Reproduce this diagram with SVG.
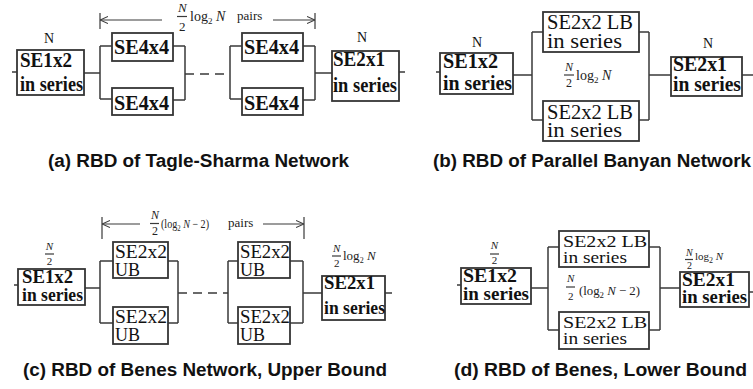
<svg xmlns="http://www.w3.org/2000/svg" width="753" height="389" viewBox="0 0 753 389">
  <style>
    .box { fill: #ffffff; stroke: #353535; stroke-width: 1.8; }
    .wire { fill: none; stroke: #3a3a3a; stroke-width: 1.5; }
    .dash { fill: none; stroke: #3a3a3a; stroke-width: 1.5; stroke-dasharray: 9 6; }
    .arrow { fill: none; stroke: #3a3a3a; stroke-width: 1.2; }
    .tick { fill: none; stroke: #3a3a3a; stroke-width: 1.2; }
    .b { font-family: "Liberation Serif", "Times New Roman", serif; font-weight: bold; fill: #111; }
    .r { font-family: "Liberation Serif", "Times New Roman", serif; fill: #111; }
    .m { font-family: "Liberation Serif", "Times New Roman", serif; fill: #222; }
    .mi { font-style: italic; }
    .cap { font-family: "Liberation Sans", Arial, sans-serif; font-weight: bold; font-size: 18px; fill: #111; }
  </style>
  <defs>
    <marker id="head" viewBox="0 0 8 8" refX="8" refY="4" markerWidth="8" markerHeight="8" markerUnits="userSpaceOnUse" orient="auto-start-reverse">
      <path d="M0,0.5 L8,4 L0,7.5" fill="none" stroke="#3a3a3a" stroke-width="1.1"/>
    </marker>
  </defs>

  <!-- ===== (a) Tagle-Sharma ===== -->
  <g id="a-connectors">
    <path class="wire" d="M12,72 H17 M84,73 H100 M100,46 V99 M100,46 H112 M100,99 H112 M173,46 H185 M173,100 H185 M185,46 V100"/>
    <path class="dash" d="M185,74 H230"/>
    <path class="wire" d="M230,46 V99 M230,46 H242 M230,99 H242 M303,46 H315 M303,100 H315 M315,46 V100 M315,73 H332 M399,72 H405"/>
    <path class="tick" d="M100,13 V29 M315,13 V29"/>
    <path class="arrow" d="M162,20 H100" marker-end="url(#head)"/>
    <path class="arrow" d="M273,20 H315" marker-end="url(#head)"/>
  </g>
  <g id="a-span-label">
    <text class="m mi" x="178" y="12" font-size="13">N</text>
    <path class="tick" d="M177,16.5 H187"/>
    <text class="m" x="179" y="31" font-size="13">2</text>
    <text class="m" x="190" y="21" font-size="14">log<tspan font-size="9" dy="3">2</tspan><tspan class="mi" dy="-3"> N</tspan></text>
    <text class="m" x="237" y="20" font-size="13">pairs</text>
  </g>
  <g id="a-se1x2">
    <text class="r" x="49" y="43" font-size="14" text-anchor="middle">N</text>
    <rect class="box" x="17" y="50" width="67" height="45"/>
    <text class="b" x="20" y="67" font-size="21" textLength="52" lengthAdjust="spacingAndGlyphs">SE1x2</text>
    <text class="b" x="20" y="91" font-size="21" textLength="63" lengthAdjust="spacingAndGlyphs">in series</text>
  </g>
  <g id="a-se4x4-1">
    <rect class="box" x="112" y="33" width="61" height="28"/>
    <text class="b" x="114" y="54" font-size="21" textLength="55" lengthAdjust="spacingAndGlyphs">SE4x4</text>
  </g>
  <g id="a-se4x4-2">
    <rect class="box" x="112" y="88" width="61" height="27"/>
    <text class="b" x="114" y="110" font-size="21" textLength="55" lengthAdjust="spacingAndGlyphs">SE4x4</text>
  </g>
  <g id="a-se4x4-3">
    <rect class="box" x="242" y="33" width="61" height="28"/>
    <text class="b" x="244" y="54" font-size="21" textLength="55" lengthAdjust="spacingAndGlyphs">SE4x4</text>
  </g>
  <g id="a-se4x4-4">
    <rect class="box" x="242" y="88" width="61" height="27"/>
    <text class="b" x="244" y="110" font-size="21" textLength="55" lengthAdjust="spacingAndGlyphs">SE4x4</text>
  </g>
  <g id="a-se2x1">
    <text class="r" x="362" y="42" font-size="14" text-anchor="middle">N</text>
    <rect class="box" x="332" y="51" width="67" height="50"/>
    <text class="b" x="333" y="66" font-size="21" textLength="52" lengthAdjust="spacingAndGlyphs">SE2x1</text>
    <text class="b" x="333" y="92" font-size="21" textLength="64" lengthAdjust="spacingAndGlyphs">in series</text>
  </g>
  <text class="cap" x="48" y="167" textLength="301" lengthAdjust="spacingAndGlyphs">(a) RBD of Tagle-Sharma Network</text>

  <!-- ===== (b) Parallel Banyan ===== -->
  <g id="b-connectors">
    <path class="wire" d="M436,72 H440 M513,75 H532 M532,32 V120 M532,32 H543 M532,120 H543 M639,32 H649 M639,120 H649 M649,32 V120 M649,75 H671 M742,75 H753"/>
  </g>
  <g id="b-mid-label">
    <text class="m mi" x="565" y="71" font-size="12">N</text>
    <path class="tick" d="M564,75 H574"/>
    <text class="m" x="566" y="87" font-size="12">2</text>
    <text class="m" x="576" y="80" font-size="14">log<tspan font-size="9" dy="3">2</tspan><tspan class="mi" dy="-3"> N</tspan></text>
  </g>
  <g id="b-se1x2">
    <text class="r" x="477" y="47" font-size="14" text-anchor="middle">N</text>
    <rect class="box" x="440" y="53" width="73" height="41"/>
    <text class="b" x="443" y="68" font-size="21" textLength="55" lengthAdjust="spacingAndGlyphs">SE1x2</text>
    <text class="b" x="443" y="90" font-size="21" textLength="69" lengthAdjust="spacingAndGlyphs">in series</text>
  </g>
  <g id="b-lb-1">
    <rect class="box" x="543" y="12" width="96" height="40"/>
    <text class="r" x="547" y="29" font-size="20" textLength="86" lengthAdjust="spacingAndGlyphs">SE2x2 LB</text>
    <text class="r" x="547" y="48" font-size="20" textLength="75" lengthAdjust="spacingAndGlyphs">in series</text>
  </g>
  <g id="b-lb-2">
    <rect class="box" x="543" y="101" width="96" height="40"/>
    <text class="r" x="547" y="119" font-size="20" textLength="86" lengthAdjust="spacingAndGlyphs">SE2x2 LB</text>
    <text class="r" x="547" y="137" font-size="20" textLength="75" lengthAdjust="spacingAndGlyphs">in series</text>
  </g>
  <g id="b-se2x1">
    <text class="r" x="708" y="48" font-size="14" text-anchor="middle">N</text>
    <rect class="box" x="671" y="57" width="71" height="39"/>
    <text class="b" x="673" y="71" font-size="20" textLength="54" lengthAdjust="spacingAndGlyphs">SE2x1</text>
    <text class="b" x="673" y="91" font-size="20" textLength="68" lengthAdjust="spacingAndGlyphs">in series</text>
  </g>
  <text class="cap" x="433" y="167" textLength="318" lengthAdjust="spacingAndGlyphs">(b) RBD of Parallel Banyan Network</text>

  <!-- ===== (c) Benes, upper bound ===== -->
  <g id="c-connectors">
    <path class="wire" d="M14,285 H18 M85,288 H100 M100,261 V323 M100,261 H113 M100,323 H113 M168,261 H178 M168,323 H178 M178,261 V323"/>
    <path class="dash" d="M178,293 H228"/>
    <path class="wire" d="M228,261 V323 M228,261 H238 M228,323 H238 M290,261 H303 M290,323 H303 M303,261 V323 M303,293 H322 M385,293 H392"/>
    <path class="tick" d="M102,217 V239 M304,217 V239"/>
    <path class="arrow" d="M140,224 H102" marker-end="url(#head)"/>
    <path class="arrow" d="M263,224 H304" marker-end="url(#head)"/>
  </g>
  <g id="c-span-label">
    <text class="m mi" x="151" y="219" font-size="12">N</text>
    <path class="tick" d="M150,223.5 H159"/>
    <text class="m" x="152" y="235" font-size="12">2</text>
    <text class="m" x="161" y="228" font-size="12" textLength="48" lengthAdjust="spacingAndGlyphs">(log<tspan font-size="8" dy="3">2</tspan><tspan class="mi" dy="-3"> N</tspan> − 2)</text>
    <text class="m" x="228" y="227" font-size="13">pairs</text>
  </g>
  <g id="c-se1x2">
    <text class="m mi" x="49.5" y="250" font-size="11" text-anchor="middle">N</text>
    <path class="tick" d="M45,254 H54"/>
    <text class="m" x="49.5" y="265" font-size="11" text-anchor="middle">2</text>
    <rect class="box" x="18" y="269" width="67" height="36"/>
    <text class="b" x="22" y="283" font-size="19" textLength="51" lengthAdjust="spacingAndGlyphs">SE1x2</text>
    <text class="b" x="22" y="301" font-size="19" textLength="61" lengthAdjust="spacingAndGlyphs">in series</text>
  </g>
  <g id="c-ub-1">
    <rect class="box" x="113" y="242" width="55" height="36"/>
    <text class="r" x="115" y="258" font-size="19" textLength="52" lengthAdjust="spacingAndGlyphs">SE2x2</text>
    <text class="r" x="115" y="276" font-size="19" textLength="25" lengthAdjust="spacingAndGlyphs">UB</text>
  </g>
  <g id="c-ub-2">
    <rect class="box" x="113" y="307" width="55" height="37"/>
    <text class="r" x="115" y="323" font-size="19" textLength="52" lengthAdjust="spacingAndGlyphs">SE2x2</text>
    <text class="r" x="115" y="341" font-size="19" textLength="25" lengthAdjust="spacingAndGlyphs">UB</text>
  </g>
  <g id="c-ub-3">
    <rect class="box" x="238" y="242" width="52" height="36"/>
    <text class="r" x="240" y="258" font-size="19" textLength="50" lengthAdjust="spacingAndGlyphs">SE2x2</text>
    <text class="r" x="240" y="276" font-size="19" textLength="25" lengthAdjust="spacingAndGlyphs">UB</text>
  </g>
  <g id="c-ub-4">
    <rect class="box" x="238" y="307" width="52" height="37"/>
    <text class="r" x="240" y="323" font-size="19" textLength="50" lengthAdjust="spacingAndGlyphs">SE2x2</text>
    <text class="r" x="240" y="341" font-size="19" textLength="25" lengthAdjust="spacingAndGlyphs">UB</text>
  </g>
  <g id="c-se2x1">
    <text class="m mi" x="333" y="252" font-size="11">N</text>
    <path class="tick" d="M332,256 H341"/>
    <text class="m" x="334" y="267" font-size="11">2</text>
    <text class="m" x="343" y="260" font-size="13">log<tspan font-size="8" dy="3">2</tspan><tspan class="mi" dy="-3"> N</tspan></text>
    <rect class="box" x="322" y="276" width="63" height="44"/>
    <text class="b" x="324" y="289" font-size="19" textLength="51" lengthAdjust="spacingAndGlyphs">SE2x1</text>
    <text class="b" x="324" y="314" font-size="19" textLength="61" lengthAdjust="spacingAndGlyphs">in series</text>
  </g>
  <text class="cap" x="23" y="376" textLength="364" lengthAdjust="spacingAndGlyphs">(c) RBD of Benes Network, Upper Bound</text>

  <!-- ===== (d) Benes, lower bound ===== -->
  <g id="d-connectors">
    <path class="wire" d="M457,285 H461 M531,288 H548 M548,247 V330 M548,247 H559 M548,330 H559 M649,247 H660 M649,330 H660 M660,247 V330 M660,288 H680 M749,292 H753"/>
  </g>
  <g id="d-mid-label">
    <text class="m mi" x="567" y="282" font-size="11">N</text>
    <path class="tick" d="M566,287 H575"/>
    <text class="m" x="568" y="300" font-size="11">2</text>
    <text class="m" x="579" y="295" font-size="13" textLength="61" lengthAdjust="spacingAndGlyphs">(log<tspan font-size="9" dy="3">2</tspan><tspan class="mi" dy="-3"> N</tspan> − 2)</text>
  </g>
  <g id="d-se1x2">
    <text class="m mi" x="494.5" y="249" font-size="11" text-anchor="middle">N</text>
    <path class="tick" d="M490,254 H499"/>
    <text class="m" x="494.5" y="264" font-size="11" text-anchor="middle">2</text>
    <rect class="box" x="461" y="268" width="70" height="36"/>
    <text class="b" x="463" y="282" font-size="19" textLength="54" lengthAdjust="spacingAndGlyphs">SE1x2</text>
    <text class="b" x="463" y="300" font-size="19" textLength="66" lengthAdjust="spacingAndGlyphs">in series</text>
  </g>
  <g id="d-lb-1">
    <rect class="box" x="559" y="231" width="90" height="36"/>
    <text class="r" x="563" y="247" font-size="17" textLength="84" lengthAdjust="spacingAndGlyphs">SE2x2 LB</text>
    <text class="r" x="563" y="263" font-size="17" textLength="64" lengthAdjust="spacingAndGlyphs">in series</text>
  </g>
  <g id="d-lb-2">
    <rect class="box" x="559" y="312" width="90" height="37"/>
    <text class="r" x="563" y="328" font-size="17" textLength="84" lengthAdjust="spacingAndGlyphs">SE2x2 LB</text>
    <text class="r" x="563" y="344" font-size="17" textLength="64" lengthAdjust="spacingAndGlyphs">in series</text>
  </g>
  <g id="d-se2x1">
    <text class="m mi" x="686" y="256" font-size="10">N</text>
    <path class="tick" d="M685,259.5 H693"/>
    <text class="m" x="687" y="269" font-size="10">2</text>
    <text class="m" x="695" y="260" font-size="11">log<tspan font-size="8" dy="3">2</tspan><tspan class="mi" dy="-3"> N</tspan></text>
    <rect class="box" x="680" y="272" width="69" height="35"/>
    <text class="b" x="682" y="286" font-size="19" textLength="53" lengthAdjust="spacingAndGlyphs">SE2x1</text>
    <text class="b" x="682" y="303" font-size="19" textLength="65" lengthAdjust="spacingAndGlyphs">in series</text>
  </g>
  <text class="cap" x="454" y="376" textLength="293" lengthAdjust="spacingAndGlyphs">(d) RBD of Benes, Lower Bound</text>
</svg>
